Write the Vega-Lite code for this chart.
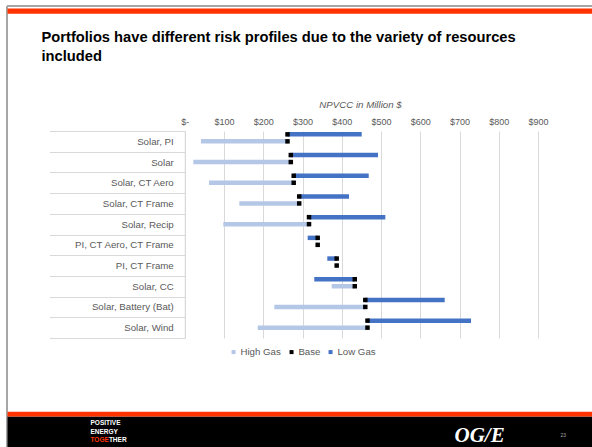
{
  "$schema": "https://vega.github.io/schema/vega-lite/v6.json",
  "width": 585,
  "height": 441,
  "autosize": {"type": "none"},
  "padding": {"left": 7, "top": 6, "right": 0, "bottom": 0},
  "background": "white",
  "config": {
    "font": "Liberation Sans",
    "view": {"stroke": "#a6a6a6", "strokeWidth": 2, "strokeDash": [585, 441, 1026, 0]},
    "axis": {"labelFont": "Liberation Sans", "titleFont": "Liberation Sans"},
    "legend": {"labelFont": "Liberation Sans"}
  },
  "title": {
    "text": ["Portfolios have different risk profiles due to the variety of resources", "included"],
    "anchor": "start",
    "frame": "group",
    "orient": "top",
    "font": "Liberation Sans",
    "fontSize": 14.7,
    "fontWeight": "bold",
    "color": "#000000",
    "lineHeight": 18.9,
    "baseline": "alphabetic",
    "offset": 0,
    "dx": 34.5,
    "dy": 75
  },
  "data": {
    "values": [
      {"portfolio": "Solar, PI", "scenario": "High Gas", "value": 41.4, "base": 261.8},
      {"portfolio": "Solar, PI", "scenario": "Low Gas", "value": 450.8, "base": 261.8},
      {"portfolio": "Solar", "scenario": "High Gas", "value": 21.8, "base": 270.2},
      {"portfolio": "Solar", "scenario": "Low Gas", "value": 492.4, "base": 270.2},
      {"portfolio": "Solar, CT Aero", "scenario": "High Gas", "value": 61.8, "base": 277.6},
      {"portfolio": "Solar, CT Aero", "scenario": "Low Gas", "value": 468.7, "base": 277.6},
      {"portfolio": "Solar, CT Frame", "scenario": "High Gas", "value": 139, "base": 291.6},
      {"portfolio": "Solar, CT Frame", "scenario": "Low Gas", "value": 418.5, "base": 291.6},
      {"portfolio": "Solar, Recip", "scenario": "High Gas", "value": 98.2, "base": 316.6},
      {"portfolio": "Solar, Recip", "scenario": "Low Gas", "value": 511, "base": 316.6},
      {"portfolio": "PI, CT Aero, CT Frame", "scenario": "High Gas", "value": 336, "base": 338.7},
      {"portfolio": "PI, CT Aero, CT Frame", "scenario": "Low Gas", "value": 313.2, "base": 338.7},
      {"portfolio": "PI, CT Frame", "scenario": "High Gas", "value": 385, "base": 387.1},
      {"portfolio": "PI, CT Frame", "scenario": "Low Gas", "value": 363.2, "base": 387.1},
      {"portfolio": "Solar, CC", "scenario": "High Gas", "value": 374.4, "base": 433.2},
      {"portfolio": "Solar, CC", "scenario": "Low Gas", "value": 330, "base": 433.2},
      {"portfolio": "Solar, Battery (Bat)", "scenario": "High Gas", "value": 228.2, "base": 460},
      {"portfolio": "Solar, Battery (Bat)", "scenario": "Low Gas", "value": 662.3, "base": 460},
      {"portfolio": "Solar, Wind", "scenario": "High Gas", "value": 185.9, "base": 465.6},
      {"portfolio": "Solar, Wind", "scenario": "Low Gas", "value": 729.3, "base": 465.6}
    ]
  },
  "resolve": {"axis": {"x": "independent", "y": "independent"}},
  "layer": [
    {
      "transform": [{"filter": "datum.scenario === 'High Gas'"}],
      "mark": {"type": "bar"},
      "encoding": {
        "y": {
          "field": "portfolio",
          "type": "nominal",
          "sort": null,
          "scale": {
            "domain": ["Solar, PI", "Solar", "Solar, CT Aero", "Solar, CT Frame", "Solar, Recip", "PI, CT Aero, CT Frame", "PI, CT Frame", "Solar, CC", "Solar, Battery (Bat)", "Solar, Wind"],
            "range": [125, 332],
            "paddingInner": 0,
            "paddingOuter": 0
          },
          "axis": {
            "orient": "left",
            "offset": -177.75,
            "title": null,
            "domainColor": "#d9d9d9",
            "domainWidth": 1,
            "tickColor": "#d9d9d9",
            "tickWidth": 1,
            "tickSize": 135.4,
            "tickBand": "extent",
            "labelPadding": -123.9,
            "labelFontSize": 9.7,
            "labelColor": "#595959",
            "labelAlign": "right",
            "grid": false,
            "zindex": 0
          }
        },
        "yOffset": {
          "field": "scenario",
          "type": "nominal",
          "scale": {"domain": ["Low Gas", "High Gas", "Base"], "paddingInner": 0.36, "paddingOuter": 0.16}
        },
        "x": {
          "field": "value",
          "type": "quantitative",
          "scale": {"domain": [-452.87, 1037.58], "nice": false, "zero": false},
          "axis": {
            "orient": "top",
            "offset": -125,
            "values": [0, 100, 200, 300, 400, 500, 600, 700, 800, 900],
            "labelExpr": "datum.value === 0 ? '$-' : '$' + datum.value",
            "labelFontSize": 9,
            "labelColor": "#595959",
            "labelPadding": 5,
            "labelFlush": false,
            "labelOverlap": false,
            "ticks": false,
            "tickSize": 0,
            "domain": false,
            "grid": true,
            "gridColor": "#d9d9d9",
            "gridWidth": 1,
            "title": "NPVCC in Million $",
            "titleFontSize": 9.7,
            "titleFontStyle": "italic",
            "titleFontWeight": "normal",
            "titleColor": "#595959",
            "titleX": 353,
            "titleY": -27,
            "titleAlign": "center",
            "titleBaseline": "middle",
            "zindex": 0
          }
        },
        "x2": {"field": "base"},
        "color": {
          "field": "scenario",
          "type": "nominal",
          "scale": {"domain": ["High Gas", "Base", "Low Gas"], "range": ["#b4c7e7", "#000000", "#4472c4"]},
          "legend": {
            "title": null,
            "orient": "none",
            "legendX": 221.7,
            "legendY": 341,
            "direction": "horizontal",
            "symbolType": "square",
            "symbolSize": 16,
            "symbolStrokeWidth": 0,
            "labelFontSize": 9.7,
            "labelColor": "#595959",
            "columnPadding": 5,
            "labelOffset": 2,
            "padding": 0
          }
        }
      }
    },
    {
      "transform": [{"filter": "datum.scenario === 'Low Gas'"}],
      "mark": {"type": "bar"},
      "encoding": {
        "y": {
          "field": "portfolio",
          "type": "nominal",
          "sort": null,
          "axis": {
            "orient": "left",
            "offset": 0,
            "domain": false,
            "labels": false,
            "ticks": false,
            "grid": false,
            "title": "TOGE",
            "titleX": 83,
            "titleY": 435.5,
            "titleAngle": 0,
            "titleAlign": "left",
            "titleBaseline": "alphabetic",
            "titleColor": "#ff3300",
            "titleFontSize": 6.5,
            "titleFontWeight": "bold",
            "zindex": 1
          }
        },
        "yOffset": {"field": "scenario", "type": "nominal"},
        "x": {
          "field": "value",
          "type": "quantitative",
          "axis": {
            "orient": "top",
            "offset": -4.65,
            "domainColor": "#ff3300",
            "domainWidth": 5.3,
            "labels": false,
            "ticks": false,
            "grid": false,
            "title": "23",
            "titleX": 553,
            "titleY": 426.3,
            "titleAngle": 0,
            "titleAlign": "left",
            "titleBaseline": "alphabetic",
            "titleFontSize": 5,
            "titleFontWeight": "normal",
            "titleColor": "#a6a6a6",
            "zindex": 1
          }
        },
        "x2": {"field": "base"},
        "color": {"field": "scenario", "type": "nominal"}
      }
    },
    {
      "transform": [{"filter": "datum.scenario === 'High Gas'"}],
      "mark": {"type": "square", "size": 20, "filled": true, "opacity": 1},
      "encoding": {
        "y": {
          "field": "portfolio",
          "type": "nominal",
          "sort": null,
          "axis": {
            "orient": "left",
            "offset": 0,
            "domain": false,
            "labels": false,
            "ticks": false,
            "grid": false,
            "title": "THER",
            "titleX": 101.4,
            "titleY": 435.5,
            "titleAngle": 0,
            "titleAlign": "left",
            "titleBaseline": "alphabetic",
            "titleColor": "#ffffff",
            "titleFontSize": 6.5,
            "titleFontWeight": "bold",
            "zindex": 1
          }
        },
        "yOffset": {"field": "scenario", "type": "nominal"},
        "x": {
          "field": "base",
          "type": "quantitative",
          "axis": {
            "orient": "bottom",
            "offset": -33.3,
            "domainColor": "#ff3300",
            "domainWidth": 4.7,
            "labels": false,
            "ticks": false,
            "grid": false,
            "title": ["POSITIVE", "ENERGY"],
            "titleX": 83,
            "titleY": 10.8,
            "titleAngle": 0,
            "titleAlign": "left",
            "titleBaseline": "alphabetic",
            "titleColor": "#ffffff",
            "titleFontSize": 6.5,
            "titleFontWeight": "bold",
            "titleLineHeight": 8.5,
            "zindex": 1
          }
        },
        "color": {"datum": "Base", "type": "nominal"}
      }
    },
    {
      "transform": [{"filter": "datum.scenario === 'Low Gas'"}],
      "mark": {"type": "square", "size": 20, "filled": true, "opacity": 1},
      "encoding": {
        "y": {"field": "portfolio", "type": "nominal", "sort": null, "axis": null},
        "yOffset": {"field": "scenario", "type": "nominal"},
        "x": {
          "field": "base",
          "type": "quantitative",
          "axis": {
            "orient": "bottom",
            "offset": -15.5,
            "domainColor": "#000000",
            "domainWidth": 31,
            "labels": false,
            "ticks": false,
            "grid": false,
            "title": "OG/E",
            "titleX": 447,
            "titleY": 9.5,
            "titleAngle": 0,
            "titleAlign": "left",
            "titleBaseline": "alphabetic",
            "titleFont": "Liberation Serif",
            "titleFontStyle": "italic",
            "titleFontWeight": "bold",
            "titleFontSize": 21,
            "titleColor": "#ffffff",
            "zindex": 0
          }
        },
        "color": {"datum": "Base", "type": "nominal"}
      }
    }
  ]
}
